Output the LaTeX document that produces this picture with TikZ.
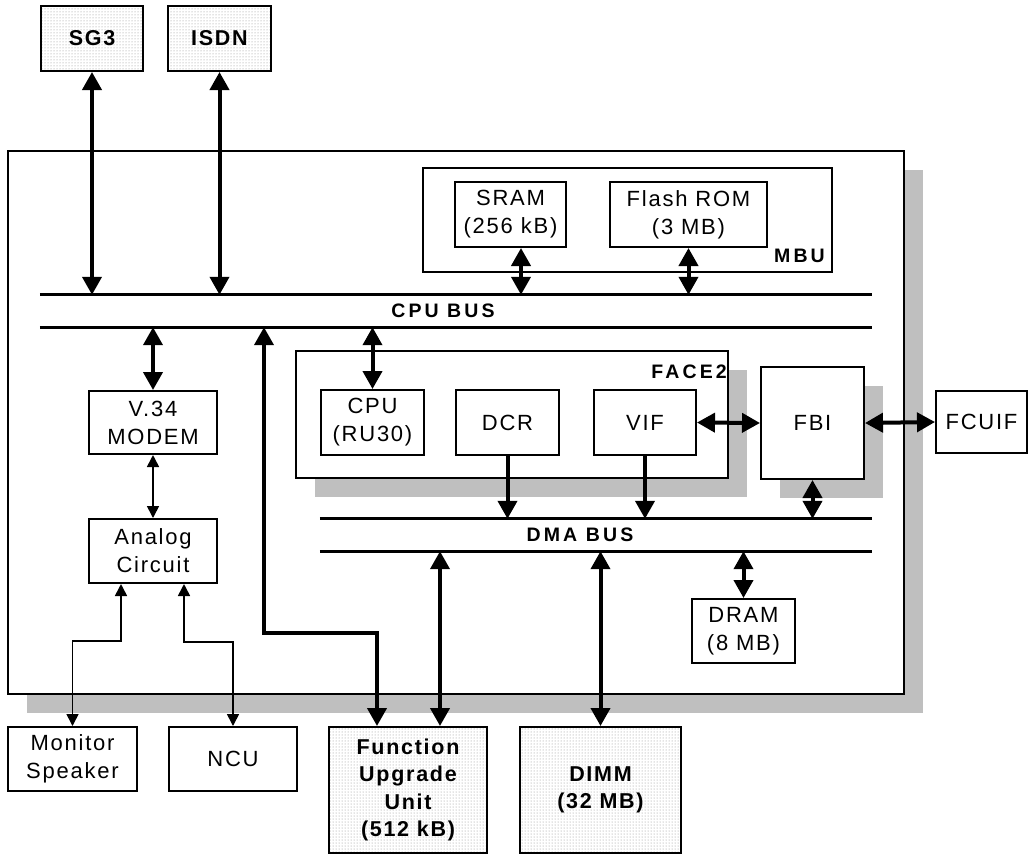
\documentclass[tikz,border=0pt]{standalone}
\usepackage{fontspec}
\setmainfont{Liberation Sans}
\newfontfamily\lblfont[LetterSpace=8]{Liberation Sans}
\newfontfamily\busfont[LetterSpace=16]{Liberation Sans}
\usetikzlibrary{arrows.meta,patterns,shadows}

\tikzset{
  box/.style={draw, line width=2pt, fill=white, inner sep=0pt, align=center,
    font=\lblfont\fontsize{22}{28}\selectfont},
  extbox/.style={draw, line width=2pt, inner sep=0pt, align=center,
    pattern=dots, pattern color=black!45,
    font=\lblfont\bfseries\fontsize{21.5}{27.5}\selectfont},
  shadowed/.style={drop shadow={shadow xshift=19pt, shadow yshift=-19pt,
    fill=black!25, opacity=1, draw=none}},
  buslbl/.style={font=\busfont\bfseries\fontsize{19.5}{22}\selectfont, inner sep=0pt},
  busarea/.style={inner sep=0pt},
  busline/.style={line width=2.8pt},
  biT/.style={line width=4pt, >={Triangle[length=18pt,width=19pt]}, <->},
  oneT/.style={line width=4pt, >={Triangle[length=18pt,width=19pt]}, ->},
  biS/.style={line width=1.6pt, >={Triangle[length=12pt,width=12pt]}, <->},
}

\begin{document}
\begin{tikzpicture}[x=1pt, y=-1pt]
\fill[white] (0,0) rectangle (1029,855);
\useasboundingbox (0,0) rectangle (1029,855);

% main board
\node[box, shadowed, minimum width=896pt, minimum height=543pt] (main) at (456,422.5) {};

% MBU
\node[box, minimum width=409pt, minimum height=104pt] (mbu) at (627.5,220) {};
\node[buslbl, anchor=base east] (mbulbl) at ([xshift=-8pt, yshift=11pt]mbu.south east) {MBU};
\node[box, minimum width=111pt, minimum height=65pt] (sram) at (510.5,214.5) {SRAM\\(256 kB)};
\node[box, minimum width=157pt, minimum height=65pt] (flash) at (688.5,214.5) {Flash ROM\\(3 MB)};

% FACE2
\node[box, shadowed, minimum width=432pt, minimum height=127pt] (face2) at (512,414.5) {};
\node[buslbl, anchor=base east] (face2lbl) at ([xshift=-2pt, yshift=-28pt]face2.north east) {FACE2};
\node[box, minimum width=103pt, minimum height=65pt] (cpu) at (372.5,422.5) {CPU\\(RU30)};
\node[box, minimum width=103pt, minimum height=65pt] (dcr) at (507.5,422.5) {DCR};
\node[box, minimum width=102pt, minimum height=65pt] (vif) at (645,422.5) {VIF};

% FBI and FCUIF
\node[box, shadowed, minimum width=103pt, minimum height=112pt] (fbi) at (812.5,423) {FBI};
\node[box, minimum width=91pt, minimum height=62pt] (fcuif) at (981.5,422) {FCUIF};

% DRAM
\node[box, minimum width=103pt, minimum height=64pt] (dram) at (743.5,631) {DRAM\\(8 MB)};

% modem, analog
\node[box, minimum width=128pt, minimum height=63pt] (modem) at (153,422.5) {V.34\\MODEM};
\node[box, minimum width=128pt, minimum height=64pt] (analog) at (153,551) {Analog\\Circuit};

% external boxes
\node[extbox, minimum width=102pt, minimum height=65pt] (sg3) at (92,38.5) {SG3};
\node[extbox, minimum width=103pt, minimum height=65pt] (isdn) at (219.5,38.5) {ISDN};
\node[extbox, minimum width=158pt, minimum height=126pt] (fuu) at (408,790) {Function\\Upgrade\\Unit\\(512 kB)};
\node[extbox, minimum width=161pt, minimum height=126pt] (dimm) at (600.5,790) {DIMM\\(32 MB)};
\node[box, minimum width=129pt, minimum height=64pt] (monitor) at (72.5,759) {Monitor\\Speaker};
\node[box, minimum width=128pt, minimum height=64pt] (ncu) at (233,759) {NCU};

% buses
\node[busarea, minimum width=832pt, minimum height=32pt] (cpubus) at (456,311) {};
\node[busarea, minimum width=552pt, minimum height=32pt] (dmabus) at (596,535) {};
\node[buslbl] (cpubuslbl) at (443,311) {CPU BUS};
\node[buslbl] (dmabuslbl) at (580,535) {DMA BUS};
\draw[busline] (cpubus.north west) -- (cpubus.north east);
\draw[busline] (cpubus.south west) -- (cpubus.south east);
\draw[busline] (dmabus.north west) -- (dmabus.north east);
\draw[busline] (dmabus.south west) -- (dmabus.south east);

% CPU bus connections
\draw[biT] (sg3.south) -- (sg3.south |- cpubus.north);
\draw[biT] (isdn.south) -- (isdn.south |- cpubus.north);
\coordinate (sramP) at ([xshift=10.5pt]sram.south);
\draw[biT] (sramP) -- (sramP |- cpubus.north);
\draw[biT] (flash.south) -- (flash.south |- cpubus.north);
\draw[biT] (modem.north) -- (modem.north |- cpubus.south);
\draw[biT] (cpu.north) -- (cpu.north |- cpubus.south);

% function upgrade unit path
\coordinate (fuuA) at ([xshift=-31pt]fuu.north);
\coordinate (bendA) at (264,633);
\draw[biT, line join=miter] (bendA |- cpubus.south) -- (bendA) -- (bendA -| fuuA) -- (fuuA);
\coordinate (fuuB) at ([xshift=32pt]fuu.north);
\draw[biT] (fuuB) -- (fuuB |- dmabus.south);
\draw[biT] (dimm.north) -- (dimm.north |- dmabus.south);

% DMA bus connections
\draw[oneT] (dcr.south) -- (dcr.south |- dmabus.north);
\draw[oneT] (vif.south) -- (vif.south |- dmabus.north);
\draw[biT] (fbi.south) -- (fbi.south |- dmabus.north);
\draw[biT] (dram.north) -- (dram.north |- dmabus.south);
\draw[biT] (vif.east) -- (fbi.west);
\draw[biT] (fbi.east) -- (fcuif.west);

% analog section
\draw[biS] (modem.south) -- (analog.north);
\coordinate (aL) at ([xshift=-32pt]analog.south);
\coordinate (yL) at (0,641);
\draw[biS, line join=miter] (aL) -- (aL |- yL) -- (monitor.north |- yL) -- (monitor.north);
\coordinate (aR) at ([xshift=31pt]analog.south);
\coordinate (yR) at (0,642);
\draw[biS, line join=miter] (aR) -- (aR |- yR) -- (ncu.north |- yR) -- (ncu.north);
\end{tikzpicture}
\end{document}
